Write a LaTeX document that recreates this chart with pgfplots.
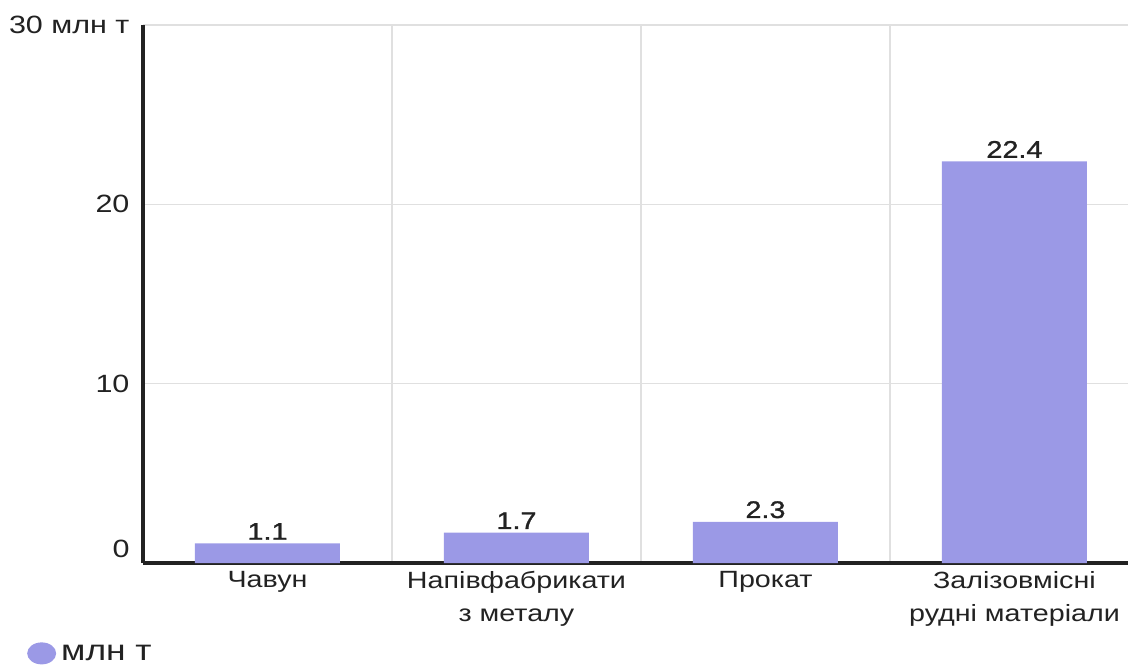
\documentclass[border=0pt]{standalone}
\usepackage{fontspec}
\setmainfont{Liberation Sans}[FakeStretch=1.22]
\newfontfamily\medfont{Liberation Sans}[FakeStretch=1.2, FakeBold=1.2]
\usepackage{pgfplots}
\pgfplotsset{compat=1.18}
\definecolor{barcol}{RGB}{155,153,230}
\definecolor{gridcol}{RGB}{224,224,224}
\definecolor{axcol}{RGB}{34,34,34}
\begin{document}
\begin{tikzpicture}
\begin{axis}[
  name=ax,
  scale only axis, width=985pt, height=538pt,
  xmin=-0.5, xmax=3.456, ymin=0, ymax=30,
  axis lines=left,
  axis line style={-, line width=3.2pt, color=axcol},
  ybar, bar width=145pt,
  xtick={0,1,2,3},
  xticklabels={Чавун, Напівфабрикати\\з металу, Прокат, Залізовмісні\\рудні матеріали},
  xticklabel style={align=center, font=\fontsize{23.5}{33}\selectfont, text=axcol, yshift=-5pt},
  minor xtick={0.5,1.5,2.5},
  xminorgrids,
  minor grid style={gridcol, line width=1.5pt},
  ytick={0,10,20,30},
  yticklabels={\raisebox{28pt}{0},10,20,30 млн т},
  yticklabel style={font=\fontsize{25}{28}\selectfont, text=axcol, xshift=-10pt},
  ymajorgrids,
  major grid style={gridcol, line width=1.5pt},
  major tick length=0pt, minor tick length=0pt,
  /pgf/number format/assume math mode=true,
  nodes near coords={\pgfmathprintnumber[fixed,fixed zerofill,precision=1,assume math mode=true]{\pgfplotspointmeta}},
  nodes near coords style={font=\medfont\fontsize{24}{28}\selectfont, text=axcol},
  legend style={draw=none, fill=none, at={(-0.1178,-0.168)}, anchor=west, inner sep=0pt,
    font=\fontsize{29}{29}\selectfont, text=axcol, legend cell align=left},
  legend image code/.code={\fill[barcol] (14.5pt,0pt) ellipse (14.5pt and 11pt); \path (32pt,0pt);},
]
\addplot[fill=barcol, draw=none] coordinates {(0,1.1) (1,1.7) (2,2.3) (3,22.4)};
\addlegendentry{млн т}
\end{axis}
\pgfresetboundingbox
\path ([xshift=-143pt,yshift=-103pt]ax.south west) rectangle ([yshift=25pt]ax.north east);
\end{tikzpicture}
\end{document}
